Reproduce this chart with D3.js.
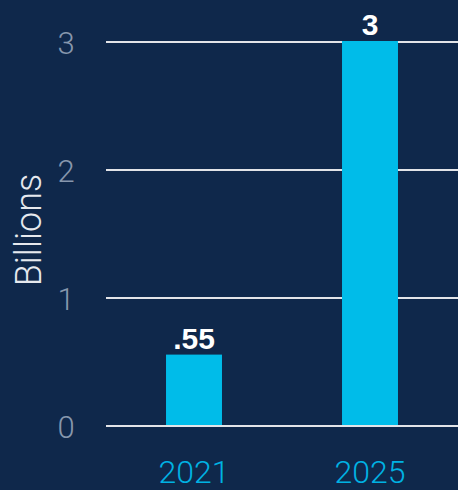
<!DOCTYPE html>
<html><head><meta charset="utf-8">
<script src="https://cdn.jsdelivr.net/npm/d3@7"></script>
<style>html,body{margin:0;padding:0;background:#0f284b;}svg{display:block;}</style>
</head><body>
<script>
const categories = ["2021", "2025"];
const values = [0.55, 3];
const valueLabels = [".55", "3"];
const yTicks = [0, 1, 2, 3];
const yTitle = "Billions";

const W = 458, H = 490;
const svg = d3.select("body").append("svg").attr("width", W).attr("height", H);
svg.append("rect").attr("width", W).attr("height", H).attr("fill", "#0f284b");

const x = d3.scaleBand().domain(categories).range([106, 458]).paddingInner(0.682).paddingOuter(0.341);
const y = d3.scaleLinear().domain([0, 3]).range([426, 42]);

const font = "Roboto, 'Open Sans', sans-serif";
const boldFont = "'Liberation Sans', Arial, sans-serif";

// gridlines
svg.selectAll("line.grid").data(yTicks).join("line")
  .attr("x1", 106).attr("x2", W)
  .attr("y1", d => y(d)).attr("y2", d => y(d))
  .attr("stroke", "#e2e4e8").attr("stroke-width", 2);

// y tick labels
svg.selectAll("text.yt").data(yTicks).join("text")
  .attr("x", 66).attr("y", d => y(d) + 12)
  .attr("text-anchor", "middle")
  .attr("font-family", font).attr("font-weight", 300).attr("font-size", 31)
  .attr("fill", "#8797ad").text(d => d);

// y title
svg.append("text")
  .attr("transform", "translate(41,230) rotate(-90)")
  .attr("text-anchor", "middle")
  .attr("font-family", font).attr("font-weight", 300).attr("font-size", 36)
  .attr("fill", "#e6e9ee").text(yTitle);

// bars
svg.selectAll("rect.bar").data(values).join("rect")
  .attr("x", (d, i) => x(categories[i]))
  .attr("width", x.bandwidth())
  .attr("y", d => y(d) - 1)
  .attr("height", d => y(0) - y(d))
  .attr("fill", "#00bce9");

// value labels
svg.selectAll("text.vl").data(values).join("text")
  .attr("x", (d, i) => x(categories[i]) + x.bandwidth() / 2)
  .attr("y", d => y(d) - 7)
  .attr("text-anchor", "middle")
  .attr("font-family", boldFont).attr("font-weight", 700).attr("font-size", 30)
  .attr("fill", "#ffffff").text((d, i) => valueLabels[i]);

// x labels
svg.selectAll("text.xl").data(categories).join("text")
  .attr("x", d => x(d) + x.bandwidth() / 2)
  .attr("y", 483)
  .attr("text-anchor", "middle")
  .attr("font-family", font).attr("font-weight", 300).attr("font-size", 32)
  .attr("fill", "#00b2e3").text(d => d);
</script>
</body></html>
